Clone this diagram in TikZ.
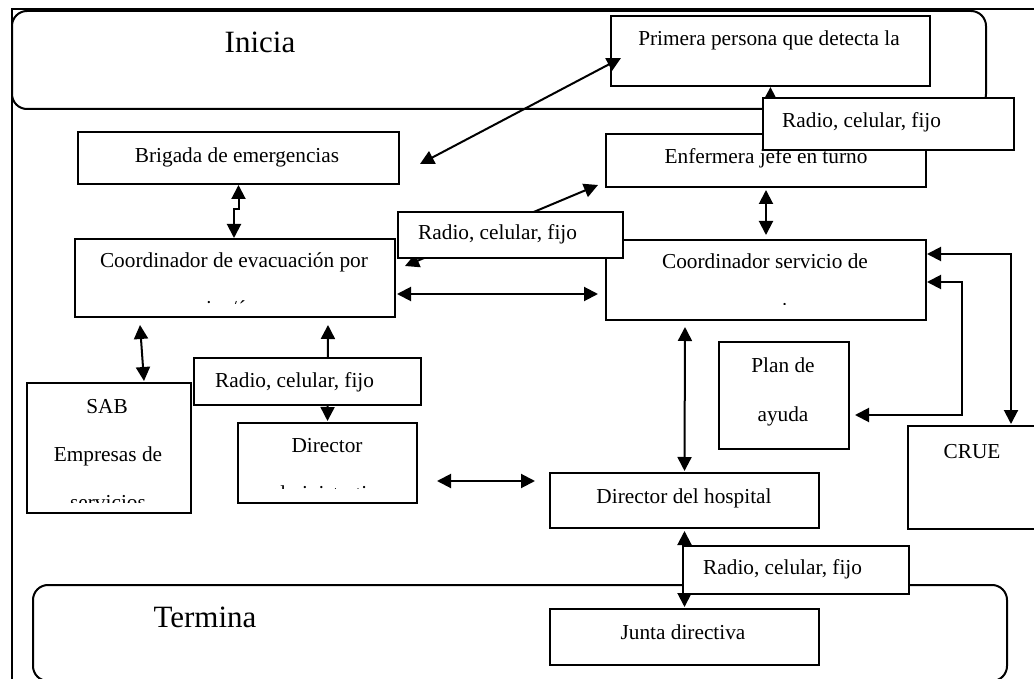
\documentclass[tikz,border=0pt]{standalone}
\usepackage{fontspec}
\setmainfont{Liberation Serif}
\usetikzlibrary{arrows.meta}
\newcommand\fsnorm{\fontsize{21.3}{25}\selectfont}
\newcommand\fsbig{\fontsize{31}{36}\selectfont}
\begin{document}
\begin{tikzpicture}[x=1pt,y=-1pt,
  box/.style={draw, line width=2pt, fill=white, inner sep=0pt, anchor=north west},
  rbox/.style={draw, line width=2pt, inner sep=0pt, anchor=north west, rounded corners=15pt},
  txt/.style={font=\fsnorm, anchor=base, inner sep=0pt},
  big/.style={font=\fsbig, anchor=base, inner sep=0pt},
  rtxt/.style={font=\fsnorm, anchor=base west, inner sep=0pt},
  arr/.style={line width=2pt, {Triangle[length=14pt,width=14pt]}-{Triangle[length=14pt,width=14pt]}}]
\useasboundingbox (0,0) rectangle (1034,679);
\clip (0,0) rectangle (1034,679);

% outer frame
\node[draw, line width=2pt, anchor=north west, inner sep=0pt, minimum width=1100pt, minimum height=740pt] (frame) at (11,8) {};

% start / end bands
\node[rbox, minimum width=974pt, minimum height=98pt] (inicia) at (11,10) {};
\node[big] (iniciaT) at (260,53) {Inicia};
\node[rbox, minimum width=974pt, minimum height=96pt] (termina) at (32,584) {};
\node[big] (terminaT) at (205,627) {Termina};

% boxes
\node[box, minimum width=319pt, minimum height=70pt] (prim) at (610,15) {};
\node[txt] (primT) at (769,46) {Primera persona que detecta la};

\node[box, minimum width=321pt, minimum height=52pt] (brig) at (77,131) {};
\node[txt] (brigT) at (237,163) {Brigada de emergencias};

\node[box, minimum width=320pt, minimum height=53pt] (enf) at (605,133) {};
\node[txt] (enfT) at (766,164) {Enfermera jefe en turno};

\node[box, minimum width=320pt, minimum height=78pt] (evac) at (74,238) {};
\node[txt] (evacT) at (234,268) {Coordinador de evacuación por};
\begin{scope}
  \clip (evac.north west) rectangle ([yshift=15pt]evac.south east);
  \node[txt] (evacT2) at (234,316) {piso/área};
\end{scope}

\node[box, minimum width=320pt, minimum height=80pt] (cserv) at (605,239) {};
\node[txt] (cservT) at (765,269) {Coordinador servicio de};
\begin{scope}
  \clip (cserv.north west) rectangle ([yshift=17pt]cserv.south east);
  \node[txt] (cservT2) at (765,317) {urgencias};
\end{scope}

\node[box, minimum width=164pt, minimum height=130pt] (sab) at (26,382) {};
\node[txt] (sabT) at (107,413) {SAB};
\node[txt] (sabT2) at (108,461) {Empresas de};
\begin{scope}
  \clip (sab.north west) rectangle ([yshift=12pt]sab.south east);
  \node[txt] (sabT3) at (108,509) {servicios};
\end{scope}

\node[box, minimum width=179pt, minimum height=80pt] (dirA) at (237,422) {};
\node[txt] (dirAT) at (327,452) {Director};
\begin{scope}
  \clip (dirA.north west) rectangle ([yshift=16pt]dirA.south east);
  \node[txt] (dirAT2) at (327,500) {administrativo};
\end{scope}

\node[box, minimum width=130pt, minimum height=107pt] (plan) at (718,341) {};
\node[txt] (planT) at (783,372) {Plan de};
\node[txt] (planT2) at (783,421) {ayuda};

\node[box, minimum width=140pt, minimum height=103pt] (crue) at (907,425) {};
\node[txt] (crueT) at (972,458) {CRUE};

\node[box, minimum width=269pt, minimum height=55pt] (dirH) at (549,472) {};
\node[txt] (dirHT) at (684,503) {Director del hospital};

\node[box, minimum width=269pt, minimum height=56pt] (junta) at (549,608) {};
\node[txt] (juntaT) at (683,639) {Junta directiva};

% connectors
\draw[arr] ([xshift=20pt,yshift=-6pt]brig.east) -- ([xshift=11pt,yshift=-7pt]prim.west);
\draw[arr] (prim.south) -- ([xshift=4pt,yshift=8pt]enf.north);
\draw[arr] (brig.south) -- ++(0,24) -| ([xshift=-1pt]evac.north);
\draw[arr] ([yshift=-2pt]enf.south) -- ([yshift=4pt]cserv.north);
\draw[arr] ([xshift=66pt,yshift=-7pt]evac.south west) -- ([xshift=35pt,yshift=1pt]sab.north);
\draw[arr] ([xshift=93pt,yshift=-7pt]evac.south) -- ([yshift=1pt]dirA.north);
\draw[arr] ([xshift=1pt,yshift=-16pt]evac.east) -- ([xshift=-7pt,yshift=-14pt]cserv.west);
\draw[arr] ([xshift=9pt,yshift=-28pt]evac.north east) -- ([xshift=-7pt,yshift=3pt]enf.south west);
\draw[arr] ([xshift=-81pt,yshift=-6pt]cserv.south) -- ([yshift=1pt]dirH.north);
\draw[arr] ([xshift=19pt,yshift=-18pt]dirA.east) -- ([xshift=-14pt,yshift=19.5pt]dirH.west);
\draw[arr] ([yshift=26pt]cserv.east) -| ([xshift=33pt,yshift=1pt]crue.north);
\draw[arr] ([yshift=-2pt]cserv.east) -- ++(35,0) |- ([xshift=5pt,yshift=-19.5pt]plan.east);
\draw[arr] ([yshift=-2pt]dirH.south) -- ([yshift=1pt]junta.north);

% communication-channel labels (drawn on top)
\node[box, minimum width=251pt, minimum height=52pt] (r1) at (762,97) {};
\node[rtxt] (r1T) at (782,128) {Radio, celular, fijo};
\node[box, minimum width=225pt, minimum height=46pt] (r2) at (397,211) {};
\node[rtxt] (r2T) at (418,240) {Radio, celular, fijo};
\node[box, minimum width=227pt, minimum height=47pt] (r3) at (193,357) {};
\node[rtxt] (r3T) at (215,387) {Radio, celular, fijo};
\node[box, minimum width=226pt, minimum height=48pt] (r4) at (682,545) {};
\node[rtxt] (r4T) at (703,574) {Radio, celular, fijo};
\end{tikzpicture}
\end{document}
